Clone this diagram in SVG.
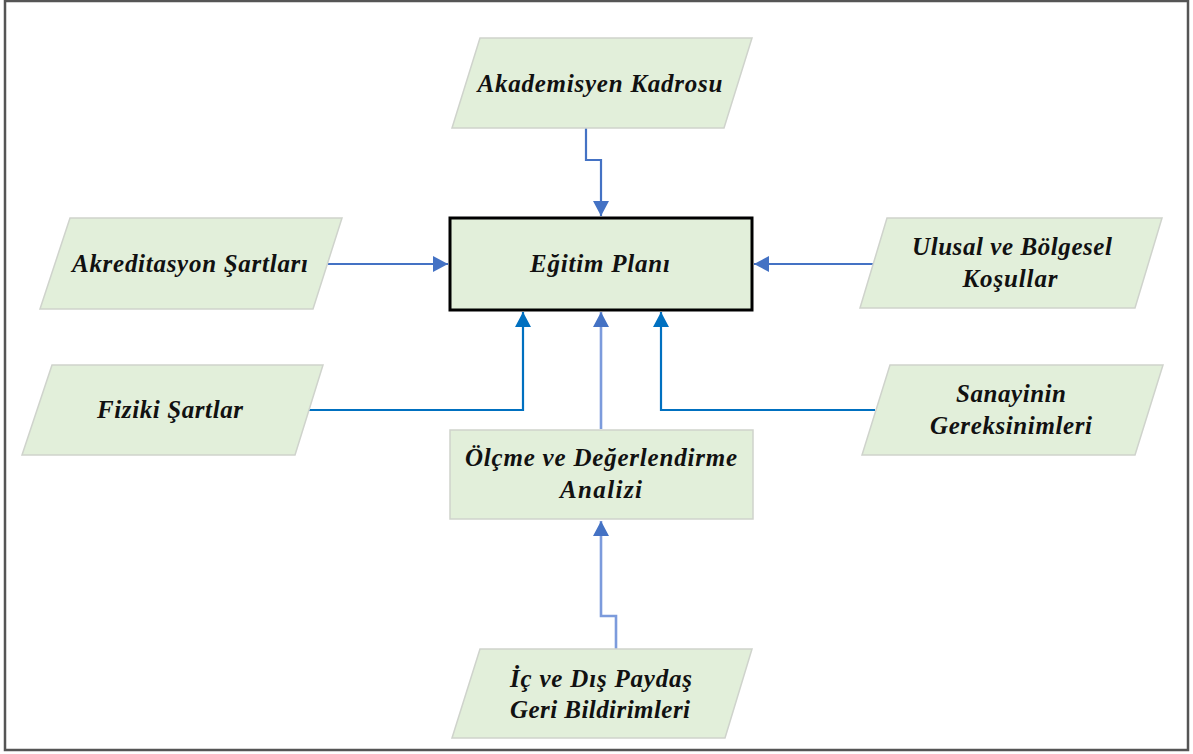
<svg xmlns="http://www.w3.org/2000/svg" width="1193" height="754" viewBox="0 0 1193 754">
<style>
.shape{fill:#e2efda;stroke:#cfd3cc;stroke-width:1.5}
.main{fill:#e2efda;stroke:#000;stroke-width:3}
.t{font-family:"Liberation Serif","Times New Roman",serif;font-weight:bold;font-style:italic;font-size:25px;fill:#111;text-anchor:middle}
.c1{fill:none;stroke:#4472c4;stroke-width:2.2}
.c2{fill:none;stroke:#0070c0;stroke-width:2.2}
.c3{fill:none;stroke:#7c9bdc;stroke-width:2.6}
</style>
<defs>
<marker id="a1" markerUnits="userSpaceOnUse" markerWidth="16" markerHeight="16" refX="15" refY="8" orient="auto"><path d="M0,0 L15,8 L0,16 Z" fill="#4472c4"/></marker>
<marker id="a2" markerUnits="userSpaceOnUse" markerWidth="16" markerHeight="16" refX="15" refY="8" orient="auto"><path d="M0,0 L15,8 L0,16 Z" fill="#0070c0"/></marker>
</defs>
<rect x="5" y="1" width="1183" height="749" fill="#fff" stroke="#555" stroke-width="2.5"/>
<g id="connectors">
<path class="c1" d="M586,128 V160 H601 V216" marker-end="url(#a1)"/>
<path class="c1" d="M328,264 H448" marker-end="url(#a1)"/>
<path class="c1" d="M877,264 H754" marker-end="url(#a1)"/>
<path class="c2" d="M307,410 H523 V312" marker-end="url(#a2)"/>
<path class="c2" d="M875,410 H661 V312" marker-end="url(#a2)"/>
<path class="c3" d="M601,429 V312" marker-end="url(#a1)"/>
<path class="c3" d="M616,649 V616 H601 V521" marker-end="url(#a1)"/>
</g>
<g id="akademisyen">
<polygon class="shape" points="480,38 752,38 724,128 452,128"/>
<text class="t" x="600" y="92" textLength="245" lengthAdjust="spacing">Akademisyen Kadrosu</text>
</g>
<g id="egitim">
<rect class="main" x="450" y="218" width="302" height="92"/>
<text class="t" x="600" y="272" textLength="140" lengthAdjust="spacing">Eğitim Planı</text>
</g>
<g id="akreditasyon">
<polygon class="shape" points="70,218 342,218 313,309 40,309"/>
<text class="t" x="190" y="272" textLength="236" lengthAdjust="spacing">Akreditasyon Şartları</text>
</g>
<g id="ulusal">
<polygon class="shape" points="887,218 1162,218 1135,308 860,308"/>
<text class="t" x="1012" y="255" textLength="200" lengthAdjust="spacing">Ulusal ve Bölgesel</text>
<text class="t" x="1010" y="287" textLength="95" lengthAdjust="spacing">Koşullar</text>
</g>
<g id="fiziki">
<polygon class="shape" points="52,365 323,365 295,455 22,455"/>
<text class="t" x="170" y="418" textLength="146" lengthAdjust="spacing">Fiziki Şartlar</text>
</g>
<g id="sanayinin">
<polygon class="shape" points="890,365 1163,365 1135,455 862,455"/>
<text class="t" x="1011" y="402" textLength="110" lengthAdjust="spacing">Sanayinin</text>
<text class="t" x="1011" y="434" textLength="162" lengthAdjust="spacing">Gereksinimleri</text>
</g>
<g id="olcme">
<rect class="shape" x="450" y="430" width="303" height="89"/>
<text class="t" x="601" y="466" textLength="272" lengthAdjust="spacing">Ölçme ve Değerlendirme</text>
<text class="t" x="601" y="498" textLength="82" lengthAdjust="spacing">Analizi</text>
</g>
<g id="paydas">
<polygon class="shape" points="480,649 752,649 725,738 452,738"/>
<text class="t" x="601" y="687" textLength="182" lengthAdjust="spacing">İç ve Dış Paydaş</text>
<text class="t" x="600" y="718" textLength="180" lengthAdjust="spacing">Geri Bildirimleri</text>
</g>
</svg>
